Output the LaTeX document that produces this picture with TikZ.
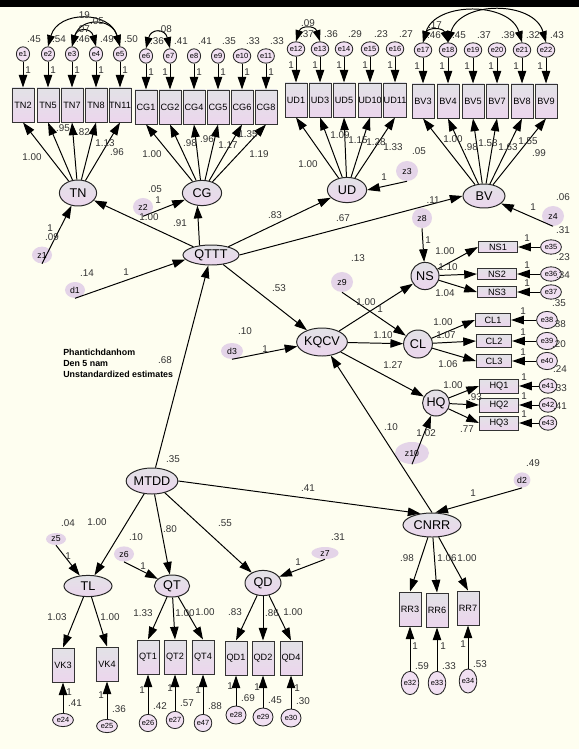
\documentclass[tikz,border=0pt]{standalone}
\usepackage{fontspec}
\setmainfont{Liberation Sans}
\usetikzlibrary{positioning,shapes.geometric,arrows.meta}
\definecolor{paper}{RGB}{254,254,240}
\definecolor{lilac}{RGB}{236,214,237}
\definecolor{greytop}{RGB}{226,226,230}
\definecolor{zfill}{RGB}{228,212,232}
\tikzset{
	lat/.style={ellipse,draw=black!85,line width=0.7pt,top color=greytop,bottom color=lilac,inner sep=0pt,font=\fontsize{9}{9}\selectfont},
	ind/.style={rectangle,draw=black!80,line width=0.7pt,top color=greytop,bottom color=lilac,inner sep=0pt,minimum width=0.55cm,minimum height=0.85cm,font=\fontsize{6.5}{6.5}\selectfont},
	err/.style={ellipse,draw=black!85,line width=0.6pt,fill=lilac!75,inner sep=0pt,minimum width=0.33cm,minimum height=0.36cm,font=\fontsize{5.3}{5.3}\selectfont},
	dist/.style={ellipse,fill=zfill,inner sep=0pt,font=\fontsize{6.2}{6.2}\selectfont},
	est/.style={inner sep=0pt,text=black!80,font=\fontsize{7}{7}\selectfont},
	reg/.style={line width=0.7pt,-{Triangle[length=9pt,width=6pt]}},
	cov/.style={line width=0.7pt,{Triangle[length=8pt,width=5.5pt]}-{Triangle[length=8pt,width=5.5pt]}}
}
\begin{document}
\begin{tikzpicture}[x=0.025cm,y=-0.025cm]
		\fill[paper] (0,0) rectangle (579,749);
		\fill[black] (0,0) rectangle (579,7);
		\useasboundingbox (0,0) rectangle (579,749);

		\node (TN) at (78,193) [lat,minimum width=0.93cm,minimum height=0.65cm]{TN};
		\node (CG) at (202,193) [lat,minimum width=0.98cm,minimum height=0.63cm]{CG};
		\node (UD) at (347,190) [lat,minimum width=0.98cm,minimum height=0.63cm]{UD};
		\node (BV) at (484,196) [lat,minimum width=1.05cm,minimum height=0.6cm]{BV};
		\node (QTTT) at (211,255) [lat,minimum width=1.4cm,minimum height=0.5cm]{QTTT};
		\node (KQCV) at (322,342) [lat,minimum width=1.05cm,minimum height=0.7cm]{KQCV};
		\node (NS) at (425,276) [lat,minimum width=0.7cm,minimum height=0.68cm]{NS};
		\node (CL) at (418,344) [lat,minimum width=0.72cm,minimum height=0.7cm]{CL};
		\node (HQ) at (436,403) [lat,minimum width=0.65cm,minimum height=0.65cm]{HQ};
		\node (MTDD) at (152,481) [lat,minimum width=1.28cm,minimum height=0.65cm]{MTDD};
		\node (CNRR) at (432,525) [lat,minimum width=1.45cm,minimum height=0.6cm]{CNRR};
		\node (TL) at (88,586) [lat,minimum width=1.2cm,minimum height=0.53cm]{TL};
		\node (QT) at (172,586) [lat,minimum width=0.88cm,minimum height=0.55cm]{QT};
		\node (QD) at (263,583) [lat,minimum width=0.9cm,minimum height=0.63cm]{QD};

		\node (z1) at (42,255) [dist,minimum width=0.5cm,minimum height=0.42cm]{z1};
		\node (z2) at (143,207) [dist,minimum width=0.5cm,minimum height=0.45cm]{z2};
		\node (z3) at (407,171) [dist,minimum width=0.55cm,minimum height=0.5cm]{z3};
		\node (z4) at (553,216) [dist,minimum width=0.55cm,minimum height=0.5cm]{z4};
		\node (z8) at (422,218) [dist,minimum width=0.5cm,minimum height=0.5cm]{z8};
		\node (z9) at (342,282) [dist,minimum width=0.55cm,minimum height=0.5cm]{z9};
		\node (d1) at (75,290) [dist,minimum width=0.5cm,minimum height=0.4cm]{d1};
		\node (d3) at (232,351) [dist,minimum width=0.55cm,minimum height=0.4cm]{d3};
		\node (z10) at (412,453) [dist,minimum width=0.85cm,minimum height=0.55cm]{z10};
		\node (d2) at (522,480) [dist,minimum width=0.42cm,minimum height=0.38cm]{d2};
		\node (z5) at (56,539) [dist,minimum width=0.5cm,minimum height=0.3cm]{z5};
		\node (z6) at (124,554) [dist,minimum width=0.5cm,minimum height=0.38cm]{z6};
		\node (z7) at (325,553) [dist,minimum width=0.68cm,minimum height=0.3cm]{z7};

		\foreach \b/\e/\x/\y/\v/\s in {TN2/e1/23/105/.45/5,TN5/e2/48/105/.54/5,TN7/e3/72/105/.46/5,TN8/e4/96/105/.49/5,TN11/e5/120/105/.50/5,
			CG1/e6/146/107/.36/5,CG2/e7/170/107/.41/-5,CG4/e8/194/107/.41/5,CG5/e9/218/107/.35/5,CG6/e10/242/107/.33/5,CG8/e11/266/107/.33/5,
			UD1/e12/296/100/.37/-5,UD3/e13/320/100/.36/-5,UD5/e14/344/100/.29/-5,UD10/e15/370/100/.23/-5,UD11/e16/395/100/.27/-5,
			BV3/e17/423/101/.46/-6,BV4/e18/448/101/.45/-6,BV5/e19/473/101/.37/-6,BV7/e20/497/101/.39/-6,BV8/e21/522/101/.32/-6,BV9/e22/546/101/.43/-6}{
			\node at (\x+11,\y-66) [est]{\v};
			\node (\b) at (\x,\y) [ind]{\b};
			\node (\e) at (\x,\y-51) [err]{\e};
			\draw[reg] (\e) -- (\b);
			\node at (\x+\s,\y-35) [est]{1};
		}

		\foreach \b/\e/\x/\y/\ey/\v/\s/\w/\h in {VK3/e24/63/665/720/.41/6/0.52cm/0.33cm,VK4/e25/107/664/726/.36/-6/0.52cm/0.33cm,
			QT1/e26/148/657/723/.42/-6/0.43cm/0.43cm,QT2/e27/175/657/720/.57/-5/0.43cm/0.43cm,QT4/e47/203/657/723/.88/-5/0.43cm/0.43cm,
			QD1/e28/236/658/715/.69/-6/0.5cm/0.45cm,QD2/e29/263/658/717/.45/-6/0.5cm/0.45cm,QD4/e30/291/658/718/.30/6/0.5cm/0.45cm,
			RR3/e32/410/609/683/.59/5/0.38cm/0.58cm,RR6/e33/437/610/683/.33/6/0.38cm/0.58cm,RR7/e34/468/608/681/.53/-5/0.4cm/0.6cm}{
			\node at (\x+12,\ey-17) [est]{\v};
			\node (\b) at (\x,\y) [ind]{\b};
			\node (\e) at (\x,\ey) [err,minimum width=\w,minimum height=\h]{\e};
			\draw[reg] (\e) -- (\b);
			\node at (\x+\s,\y/2+\ey/2) [est]{1};
		}

		\foreach \b/\e/\y/\bx/\ex/\v/\bw/\bh/\ew/\eh in {NS1/e35/247/498/551/.31/0.98cm/0.28cm/0.52cm/0.36cm,NS2/e36/274/497/551/.23/0.98cm/0.28cm/0.52cm/0.36cm,NS3/e37/292/497/551/.34/0.98cm/0.28cm/0.52cm/0.36cm,
			CL1/e38/320/493/547/.35/0.88cm/0.33cm/0.52cm/0.43cm,CL2/e39/341/494/547/.38/0.88cm/0.33cm/0.52cm/0.43cm,CL3/e40/361/494/547/.20/0.88cm/0.33cm/0.52cm/0.43cm,
			HQ1/e41/386/499/548/.24/0.98cm/0.35cm/0.36cm/0.36cm,HQ2/e42/405/499/548/.33/0.98cm/0.35cm/0.36cm/0.36cm,HQ3/e43/423/499/548/.41/0.98cm/0.35cm/0.36cm/0.36cm}{
			\node at (\ex+12,\y-17) [est]{\v};
			\node (\b) at (\bx,\y) [ind,minimum width=\bw,minimum height=\bh]{\b};
			\node (\e) at (\ex,\y) [err,minimum width=\ew,minimum height=\eh]{\e};
			\draw[reg] (\e) -- (\b);
			\node at (\ex-24,\y-9) [est]{1};
		}

		\foreach \l/\b/\a in {TN/TN2/south,TN/TN5/south,TN/TN7/south,TN/TN8/south,TN/TN11/south,
			CG/CG1/south,CG/CG2/south,CG/CG4/south,CG/CG5/south,CG/CG6/south,CG/CG8/south,
			UD/UD1/south,UD/UD3/south,UD/UD5/south,UD/UD10/south,UD/UD11/south,
			BV/BV3/south,BV/BV4/south,BV/BV5/south,BV/BV7/south,BV/BV8/south,BV/BV9/south,
			NS/NS1/west,NS/NS2/west,NS/NS3/west,CL/CL1/west,CL/CL2/west,CL/CL3/west,HQ/HQ1/west,HQ/HQ2/west,HQ/HQ3/west,
			TL/VK3/north,TL/VK4/north,QT/QT1/north,QT/QT2/north,QT/QT4/north,QD/QD1/north,QD/QD2/north,QD/QD4/north,
			CNRR/RR3/north,CNRR/RR6/north,CNRR/RR7/north}
		\draw[reg] (\l) -- (\b.\a);

		\draw[cov] (e2.north) .. controls +(10,-36) and +(-10,-36) .. (e5.north);
		\draw[cov] (e3.north) .. controls +(8,-29) and +(-8,-29) .. (e5.north);
		\draw[cov] (e3.north) .. controls +(5,-19) and +(-5,-19) .. (e4.north);
		\draw[cov] (e6.north) .. controls +(5,-20) and +(-5,-20) .. (e7.north);
		\draw[cov] (e12.north) .. controls +(5,-16) and +(-5,-16) .. (e13.north);
		\draw[cov] (e17.north) .. controls +(5,-15) and +(-5,-15) .. (e18.north);
		\draw[cov] (e17.north) .. controls +(12,-41) and +(-12,-41) .. (e21.north);
		\draw[cov] (e18.north) .. controls +(12,-42) and +(-12,-42) .. (e22.north);

		\draw[reg] (z1.south) -- (TN);
		\draw[reg] (z2.south) -- (CG);
		\draw[reg] (QTTT) -- (TN);
		\draw[reg] (QTTT.140) -- (CG.250);
		\draw[reg] (QTTT) -- (UD);
		\draw[reg] (QTTT.east) -- (BV.west);
		\draw[reg] (d1.south) -- (QTTT.190);
		\draw[reg] (z3.south) -- (UD.east);
		\draw[reg] (z4.south) -- (BV);
		\draw[reg] (z8.south) -- (NS);
		\draw[reg] (QTTT) -- (KQCV);
		\draw[reg] (d3.south) -- (KQCV.190);
		\draw[reg] (KQCV) -- (NS);
		\draw[reg] (KQCV) -- (CL);
		\draw[reg] (KQCV) -- (HQ);
		\draw[reg] (z9.south) -- (CL);
		\draw[reg] (z10.south) -- (HQ);
		\draw[reg] (CNRR.north) -- (KQCV);
		\draw[reg] (MTDD) -- (QTTT);
		\draw[reg] (MTDD.east) -- (CNRR.135);
		\draw[reg] (d2.south) -- (CNRR.75);
		\draw[reg] (MTDD) -- (TL);
		\draw[reg] (MTDD) -- (QT);
		\draw[reg] (MTDD) -- (QD);
		\draw[reg] (z5.south) -- (TL);
		\draw[reg] (z6.south) -- (QT);
		\draw[reg] (z7.south) -- (QD);

		\foreach \n/\x/\y in {1.00/32/157,.95/63/128,.82/83/132,1.13/105/143,.96/117/152,
			1.00/152/154,.98/190/143,.96/207/139,1.17/228/145,1.35/248/134,1.19/259/154,
			1.00/308/164,1.09/340/135,1.15/358/140,1.28/376/142,1.33/393/147,
			1.00/453/139,.98/471/147,1.58/488/143,1.63/508/147,1.55/528/141,.99/539/153,
			1.00/445/251,1.10/448/267,1.04/445/293,1.00/443/322,1.07/446/335,1.06/448/364,
			1.00/453/385,.93/475/397,.77/467/429,1.03/57/617,1.00/110/617,
			1.33/143/613,1.00/185/613,1.00/205/612,.83/235/612,.86/272/613,1.00/293/612,
			.98/407/558,1.06/447/558,1.00/467/558,
			.91/180/223,.83/275/215,.67/343/218,.53/279/288,.68/165/360,.41/308/488,
			1.00/97/522,.80/170/529,.55/225/523,1.00/366/302,1.10/383/335,1.27/393/365,.10/391/427,1.00/149/217,
			.09/52/237,1/50/228,.05/155/189,1/158/200,.05/419/151,1/384/177,.06/563/197,1/533/207,
			.11/433/200,1/428/240,.13/358/258,1/380/309,.14/87/273,1/126/272,.10/245/331,1/265/349,
			1/419/433,.02/429/433,.49/533/463,1/473/493,.04/68/523,1/68/556,.10/136/537,1/143/566,
			.31/338/537,1/298/562,.35/173/459,
			.19/83/15,.05/97/21,.07/83/29,.08/165/29,.09/308/23,.17/435/25}
		\node at (\x,\y) [est]{\n};

		\node (note) at (63,349) [anchor=north west,align=left,inner sep=0pt,font=\fontsize{6.3}{7.8}\selectfont\bfseries]{Phantichdanhom\\Den 5 nam\\Unstandardized estimates};
	\end{tikzpicture}
\end{document}
